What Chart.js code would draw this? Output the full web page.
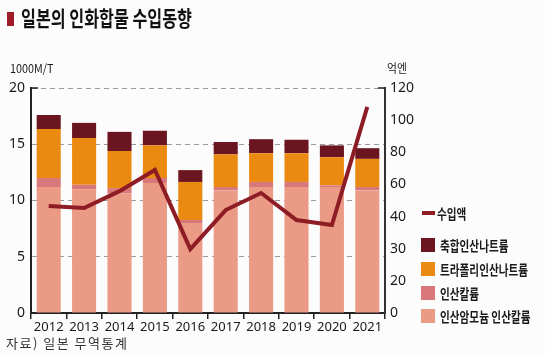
<!DOCTYPE html>
<html><head><meta charset="utf-8">
<script src="https://cdn.jsdelivr.net/npm/chart.js@4/dist/chart.umd.min.js"></script>
<style>
html,body{margin:0;padding:0;width:545px;height:355px;background:#fcfcfc;overflow:hidden;font-family:"Noto Sans CJK KR","Noto Sans",sans-serif;}
#c{position:absolute;left:0;top:0;}
.t{position:absolute;white-space:nowrap;color:#1a1a1a;transform-origin:0 0;}
#mark{position:absolute;left:7px;top:12px;width:7px;height:14px;background:#a01c28;}
#title{left:21px;top:3px;font-size:21px;font-weight:bold;transform:scaleX(0.77);line-height:28px;color:#111;}
#unitL{left:10px;top:60px;font-size:12px;transform:scaleX(0.9);line-height:16px;}
#unitR{left:387px;top:60px;font-size:12px;transform:scaleX(0.9);line-height:16px;}
#source{left:6px;top:335px;font-size:13px;letter-spacing:1.5px;color:#333;line-height:16px;}
#legend{position:absolute;left:0;top:0;}
.li{position:absolute;left:421px;height:16px;}
.sw{position:absolute;left:0;top:1px;width:14px;height:14px;}
.ln{position:absolute;left:1px;top:6px;width:13px;height:4px;}
.lt{position:absolute;left:19px;top:-1px;font-size:14px;font-weight:bold;line-height:18px;transform:scaleX(0.76);transform-origin:0 0;white-space:nowrap;color:#1a1a1a;}
</style>
</head><body>
<canvas id="c" width="545" height="355"></canvas>
<div id="mark"></div>
<div class="t" id="title">일본의 인화합물 수입동향</div>
<div class="t" id="unitL">1000M/T</div>
<div class="t" id="unitR">억엔</div>
<div class="t" id="source">자료) 일본 무역통계</div>
<div id="legend"></div>
<script>
// ---- data ----
const years = ['2012','2013','2014','2015','2016','2017','2018','2019','2020','2021'];
const ammoniumPotassiumPhosphate = [11.2, 11.0, 10.65, 11.55, 8.0, 10.9, 11.2, 11.2, 11.2, 10.9];
const potassiumPhosphate        = [0.8, 0.4, 0.45, 0.45, 0.27, 0.3, 0.45, 0.45, 0.15, 0.3];
const sodiumTripolyphosphate    = [4.35, 4.15, 3.3, 2.9, 3.38, 2.9, 2.55, 2.55, 2.5, 2.5];
const condensedSodiumPhosphate  = [1.25, 1.35, 1.7, 1.3, 1.05, 1.1, 1.25, 1.2, 1.05, 0.95];
const importValue = [57.1, 56.0, 65.0, 76.3, 34.1, 54.9, 64.0, 49.6, 46.9, 109.9];
const leftTickValues = [0, 5, 10, 15, 20];
const rightTickLabels = ['0','20','30','40','60','80','100','120'];
const seriesNames = ['수입액','축합인산나트륨','트라폴리인산나트륨','인산칼륨','인산암모늄 인산칼륨'];

// ---- styles ----
const colLine = '#8e1c24', colDark = '#6b1520', colOrange = '#eb8a10', colPink = '#d9787a', colSalmon = '#eb9a85';

const bracket = {
  id: 'bracket',
  afterDraw(chart) {
    const a = chart.chartArea, ctx = chart.ctx;
    ctx.save();
    ctx.strokeStyle = '#222'; ctx.lineWidth = 1.5;
    ctx.beginPath();
    ctx.moveTo(a.left, a.top); ctx.lineTo(a.left + 7, a.top);
    ctx.moveTo(a.right - 7, a.top); ctx.lineTo(a.right, a.top);
    ctx.stroke();
    ctx.restore();
  }
};

const barDs = (label, data, color) => ({
  type: 'bar', label, data, backgroundColor: color, borderWidth: 0,
  yAxisID: 'y', stack: 's', order: 1, barPercentage: 0.68, categoryPercentage: 1
});

new Chart(document.getElementById('c'), {
  data: {
    labels: years,
    datasets: [
      { type: 'line', label: seriesNames[0], data: importValue, yAxisID: 'y2', borderColor: colLine,
        borderWidth: 4, pointRadius: 0, tension: 0, borderJoinStyle: 'miter', order: 0, fill: false },
      barDs(seriesNames[4], ammoniumPotassiumPhosphate, colSalmon),
      barDs(seriesNames[3], potassiumPhosphate, colPink),
      barDs(seriesNames[2], sodiumTripolyphosphate, colOrange),
      barDs(seriesNames[1], condensedSodiumPhosphate, colDark)
    ]
  },
  options: {
    responsive: false, animation: false, devicePixelRatio: 1,
    layout: { padding: { left: 0, right: 0, top: 88, bottom: 0 } },
    plugins: { legend: { display: false }, tooltip: { enabled: false } },
    scales: {
      x: {
        type: 'category', stacked: true, offset: true,
        grid: { display: true, drawOnChartArea: false, drawTicks: true, tickLength: 6, color: '#222', lineWidth: 1.5, offset: true },
        border: { display: true, color: '#222', width: 2 },
        ticks: { color: '#1a1a1a', font: { family: 'Noto Sans', size: 13 }, padding: 0, maxRotation: 0, autoSkip: false },
        afterFit(s) { s.height = 42; }
      },
      y: {
        position: 'left', stacked: true, min: 0, max: 20,
        afterBuildTicks(s) { s.ticks = leftTickValues.map(v => ({ value: v })); },
        grid: { drawTicks: false, color: c => (c.tick && c.tick.value === 0) ? 'rgba(0,0,0,0)' : '#9a9a9a', lineWidth: 1 },
        border: { display: true, color: '#222', width: 2, dash: [5, 4] },
        ticks: { color: '#1a1a1a', font: { family: 'Noto Sans', size: 14 }, padding: 6 },
        afterFit(s) { s.width = 31; }
      },
      y2: {
        position: 'right', min: 0, max: 120,
        afterBuildTicks(s) {
          const n = rightTickLabels.length - 1;
          s.ticks = rightTickLabels.map((l, i) => ({ value: i * 120 / n }));
        },
        grid: { display: false, drawTicks: false },
        border: { display: true, color: '#333', width: 2 },
        ticks: { color: '#1a1a1a', font: { family: 'Noto Sans', size: 14 }, padding: 5,
          callback: (v, i) => rightTickLabels[i] },
        afterFit(s) { s.width = 160; }
      }
    }
  },
  plugins: [bracket]
});

// ---- HTML legend ----
const legendColors = [colLine, colDark, colOrange, colPink, colSalmon];
const legendTops = [205, 237, 261, 285, 308];
const lg = document.getElementById('legend');
seriesNames.forEach((name, i) => {
  const d = document.createElement('div');
  d.className = 'li'; d.style.top = legendTops[i] + 'px';
  const m = document.createElement('div');
  m.className = i === 0 ? 'ln' : 'sw';
  m.style.background = legendColors[i];
  const t = document.createElement('div');
  t.className = 'lt'; t.textContent = name;
  if (i === 0) t.style.left = '16px';
  d.appendChild(m); d.appendChild(t); lg.appendChild(d);
});
</script>
</body></html>
